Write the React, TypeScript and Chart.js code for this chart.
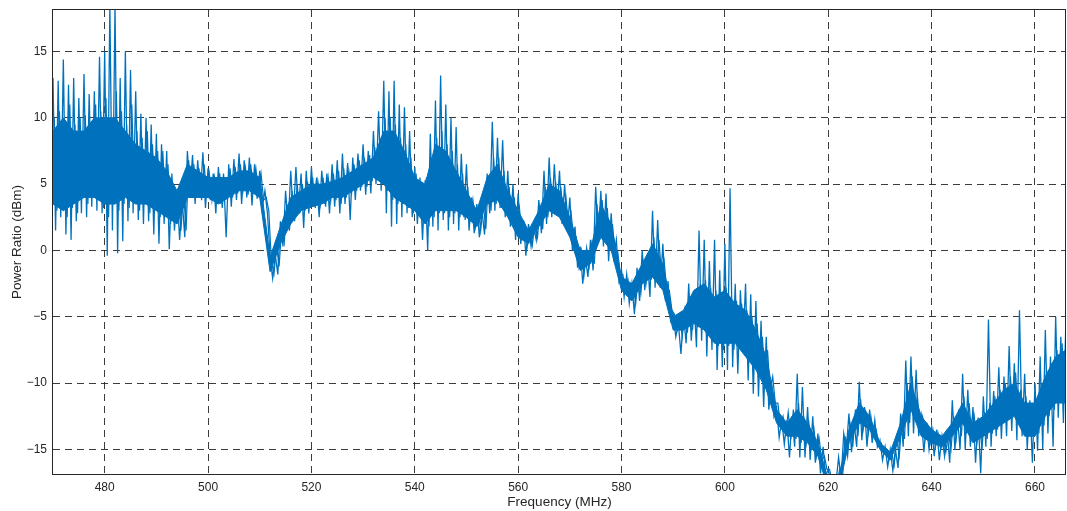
import React, { useEffect, useRef } from "react";
import { Chart, registerables } from "chart.js";

Chart.register(...registerables);

// Sweep: 470 MHz start, 0.5 MHz per sample (second pass offset by 0.25 MHz)
const startFreq = 470;
const freqStep = 0.5;
const secondOffset = 0.25;

// Power ratio (dBm), first pass, two samples per MHz
const powerDbm: number[] = [
  // 470-479
  13, 1.5, 12.8, 2.5, 14.4, 1.2, 12.5, 0.8, 13, 2.2, 11.5, 2.8, 13.3, 2.5, 11.8, 3.3, 12, 3, 14.6, 2.8,
  // 480-489
  15, -0.4, 18.5, 1.5, 18.5, -0.2, 13, 0.7, 15, 2.2, 13.6, 2.8, 12, 2.3, 10.3, 2, 10, 2.2, 9.5, 1.2,
  // 490-499
  8.8, 0.5, 8, 2, 7.5, 0.1, 5.8, 1.5, 4.5, 0.8, 3.8, 1.0, 7.5, 4.5, 7.2, 3.5, 6.8, 4, 7.4, 3.2,
  // 500-509
  6.2, 3.8, 5.8, 2.8, 6.3, 3.5, 5.8, 1.0, 6.5, 3.3, 6.9, 3.8, 7.3, 3.5, 6.8, 4.0, 7.0, 3.4, 6.5, 3.9,
  // 510-519
  6.0, 3.3, 4.5, 2.8, -0.5, -2.1, -0.3, -1.8, 2.2, 0.3, 4.5, 1.8, 6.0, 2.5, 6.3, 3.0, 5.8, 1.7, 6.0, 2.8,
  // 520-529
  6.3, 3.3, 5.5, 2.5, 6.0, 3.5, 5.8, 2.8, 6.5, 3.3, 6.8, 2.8, 7.3, 3.5, 6.6, 2.3, 7.0, 3.8, 7.3, 4.5,
  // 530-539
  8.0, 4.2, 7.5, 4.3, 9.0, 5.0, 10.5, 4.5, 12.8, 2.8, 12.0, 1.8, 12.8, 2.0, 11.0, 2.5, 10.8, 2.8, 9.0, 2.5,
  // 540-549
  6.3, 2.0, 5.5, 0.8, 5.3, 0.0, 8.8, 1.8, 11.3, 1.5, 13.2, 2.3, 11.0, 1.5, 10.0, 2.0, 9.3, 1.5, 7.3, 2.5,
  // 550-559
  6.5, 1.5, 4.0, 1.3, 3.5, 1.0, 3.0, 1.2, 5.8, 2.8, 9.7, 3.0, 8.5, 3.2, 8.3, 2.5, 6.0, 1.8, 5.0, 0.8,
  // 560-569
  4.3, 0.5, 2.3, -0.4, 2.0, 0.3, 1.8, 0.8, 3.8, 1.3, 6.0, 2.0, 7.0, 2.5, 6.5, 3.0, 6.0, 2.0, 5.0, 1.5,
  // 570-579
  4.0, 0.0, 1.8, -1.3, 0.3, -2.5, -0.5, -2.0, 0.8, -1.5, 4.8, 0.8, 4.5, 0.3, 4.3, -0.8, 2.8, -0.5, 0.8, -2.3,
  // 580-589
  -1.5, -3.5, -1.8, -4.0, -2.5, -4.8, -1.3, -3.8, 0.0, -3.0, -0.5, -3.5, 3.0, -2.8, 2.3, -2.8, 0.5, -3.8, -2.3, -5.3,
  // 590-599
  -4.8, -6.5, -5.5, -7.8, -4.8, -7.0, -2.5, -6.8, -3.5, -7.3, 1.5, -6.8, 0.8, -8.0, -0.8, -7.5, 0.8, -9.0, -1.5, -8.8,
  // 600-609
  0.5, -9.0, 4.7, -8.8, -2.5, -9.3, -3.0, -7.3, -2.5, -9.8, -3.3, -10.8, -3.8, -11.0, -5.3, -11.8, -6.5, -12.0, -9.8, -12.5,
  // 610-619
  -11.8, -14.1, -12.8, -14.6, -12.8, -15.6, -12.5, -14.8, -9.3, -15.6, -10.3, -15.6, -11.8, -15.8, -12.5, -16.0, -13.8, -16.8, -14.8, -17.0,
  // 620-629
  -16.5, -17.5, -17.5, -17.5, -15.6, -17.2, -13.8, -15.0, -12.3, -15.2, -13.0, -14.8, -9.9, -14.3, -11.8, -14.8, -12.0, -14.5, -12.8, -14.8,
  // 630-639
  -14.3, -15.8, -14.8, -16.3, -15.0, -16.6, -15.0, -16.4, -12.3, -14.8, -8.3, -14.0, -8.0, -13.8, -9.0, -14.0, -12.5, -15.2, -13.0, -15.0,
  // 640-649
  -13.3, -15.5, -13.5, -15.8, -14.0, -15.5, -13.5, -16.0, -11.3, -15.0, -12.5, -15.0, -9.3, -15.0, -10.5, -14.8, -11.8, -16.0, -12.6, -16.8,
  // 650-659
  -11.0, -14.8, -5.2, -14.8, -10.6, -14.0, -8.8, -14.2, -9.5, -14.0, -7.2, -13.6, -8.5, -14.3, -4.5, -14.0, -9.3, -15.0, -11.3, -16.0,
  // 660-666
  -10.0, -15.1, -8.0, -15.0, -6.0, -13.8, -8.0, -14.8, -5.0, -12.6, -6.5, -13.0, -5.0,
];

// Second pass (470.25 MHz onward), two samples per MHz
const powerDbmB: number[] = [
  // 470-479
  10, 3, 10.5, 3.8, 9, 2.5, 11, 3.2, 9.5, 2.8, 10, 4, 10.2, 3.5, 9, 4.2, 11, 3.8, 10.5, 3.2,
  // 480-489
  11.5, 2.5, 10, 3.8, 12, 3, 10.5, 3.5, 9.5, 3.2, 11, 4, 9, 3, 8.5, 3.8, 9, 2.8, 8, 3.3,
  // 490-499
  7.5, 2.5, 7.5, 3, 6.5, 2, 5, 2.2, 4.5, 1.5, 4.5, 1.5, 6.8, 4, 6.5, 4.2, 6.2, 3.8, 6.5, 4,
  // 500-509
  5.8, 3.8, 5.5, 3.5, 5.8, 3.2, 5.5, 3.8, 6.2, 4, 6.3, 4.3, 6.5, 4.5, 6.2, 4.2, 6.5, 4.8, 6.2, 4.3,
  // 510-519
  5.8, 3.8, 4, 3, -0.8, -1.8, 0.3, -1.2, 1.8, 0.6, 3.5, 1.5, 4.5, 2.2, 5, 2.8, 5, 3, 5.2, 3.2,
  // 520-529
  5.5, 3.2, 5.2, 3.5, 5.5, 3.3, 5.5, 3.8, 5.8, 3.8, 6, 3.5, 6.2, 4, 6, 4.2, 6.5, 4.5, 6.8, 4.8,
  // 530-539
  7, 4.8, 7.2, 5.2, 7.8, 5.5, 8.5, 5.2, 10, 4.5, 10, 3.8, 9.5, 3.5, 8.5, 3.5, 8, 3.2, 7, 2.8,
  // 540-549
  5.8, 2.8, 5, 2.2, 5.5, 1.8, 7, 2.5, 8.5, 2.8, 9, 2.8, 8, 2.5, 7.5, 2.8, 6.5, 2.5, 5.8, 2.3,
  // 550-559
  4.8, 2.2, 3.8, 1.8, 3.2, 1.5, 3.5, 1.6, 5.5, 3, 7, 3.5, 7, 3.2, 6, 3, 4.8, 2.2, 4, 1.5,
  // 560-569
  3.2, 1, 2, 0.3, 1.6, 0.4, 2.2, 1, 3.2, 1.6, 4.8, 2.5, 5.5, 2.8, 5.2, 3, 4.8, 2.5, 4, 1.8,
  // 570-579
  2.8, 0.8, 1, -1.2, 0, -1.8, 0.2, -1.2, 0.5, -1, 3.5, 0.8, 3.8, 1, 3.2, 0.2, 2, -0.2, 0, -1.8,
  // 580-589
  -1.8, -3, -2.2, -3.5, -2.5, -4, -1.8, -3.2, -1, -2.5, -0.8, -2.2, 1, -1.8, 0.8, -2, -0.8, -3, -3, -4.5,
  // 590-599
  -4.8, -6, -5, -6.5, -4.5, -6.2, -3.5, -6, -3, -5.8, -2.5, -5.5, -2.2, -6.2, -2.8, -6.8, -3, -7.2, -3.2, -7.5,
  // 600-609
  -2.8, -7.2, -3.5, -7.5, -3.8, -7.2, -4, -7.5, -4.5, -8.2, -5, -8.5, -5.5, -9.2, -6.5, -9.5, -7.5, -10.5, -9.5, -11.5,
  // 610-619
  -11.5, -13.2, -12.5, -13.8, -12.2, -14.2, -12, -14.2, -11.5, -14.5, -12.5, -14.5, -13, -14.8, -13.5, -15.5, -14.2, -15.8, -15.5, -16.5,
  // 620-629
  -16.5, -17.4, -17.3, -17.5, -16.4, -17.2, -14, -15.5, -13.2, -14.8, -12, -14, -11.2, -13.5, -12.2, -13.8, -12.5, -13.8, -13.5, -14.5,
  // 630-639
  -14.5, -15.3, -15, -15.8, -15.2, -16.2, -14.2, -15.5, -12.8, -14.2, -10, -13, -9.5, -12.5, -11, -13.2, -12.5, -14.2, -13.2, -14.5,
  // 640-649
  -13.5, -14.8, -13.8, -15, -14.2, -15.2, -13.8, -15, -12.5, -14.2, -12, -14, -11, -13.8, -11.5, -14, -12.5, -14.5, -13, -15,
  // 650-659
  -12.2, -14.2, -11.5, -13.8, -11, -13.5, -10.5, -13, -10, -12.8, -9.5, -12.5, -9.2, -12.5, -10.5, -13, -11, -13.8, -11.5, -14,
  // 660-665
  -11.2, -13.8, -10, -13.2, -9, -12.5, -8.5, -12, -7.5, -11.5, -7, -11,
];

// Dense core of the trace (solid band), every 2 MHz
const coreStep = 2;
const coreHi: number[] = [
  9, 10, 9, 9, 10, 10, 10, 9, 8, 7.5, // 470-488
  7, 6, 4.5, 6.5, 6, 5.5, 5.5, 5.5, 6, 6, // 490-508
  5.5, -0.5, 1.8, 4, 4.5, 5, 5, 5.2, 5.5, 6, // 510-528
  6.5, 7, 9, 9, 7.5, 5.5, 5, 8, 7.5, 6, // 530-548
  4.5, 3, 5.5, 6.5, 4.5, 3, 1.5, 3, 5, 4.5, // 550-568
  2.5, 0, 0, 3.5, 2, -2, -2.5, -1, 0.5, -1, // 570-588
  -5, -4.5, -3, -2.5, -3.5, -3, -4, -4.5, -6, -8, // 590-608
  -12, -13, -12, -13, -14.5, -17.3, -17.2, -13.5, -11.5, -12.5, // 610-628
  -14.5, -15.2, -13, -10, -12.5, -13.5, -14, -13, -11.5, -13, // 630-648
  -12.5, -11.5, -10.5, -10, -11.5, -11.5, -9.5, -8, -7.5, // 650-666
];
const coreLo: number[] = [
  3.5, 3, 3.5, 4, 4, 3.5, 3.5, 4, 3.5, 3.5, // 470-488
  3, 2.5, 2, 4, 4, 4, 3.5, 4, 4.5, 4.5, // 490-508
  4, -1.6, 0.5, 2, 3, 3.3, 3.5, 4, 4, 4.5, // 510-528
  5, 5.5, 5, 4, 3.5, 3, 2, 3, 3, 3, // 530-548
  2.5, 1.8, 3.5, 3.8, 2.5, 1, 0.5, 1.8, 3, 2.5, // 550-568
  1, -1.5, -1, 1, 0, -3, -3.8, -2.5, -2, -3, // 570-588
  -6, -6, -5.5, -6, -7, -7, -7, -8, -9, -10.5, // 590-608
  -13, -14, -14, -14.5, -15.5, -18, -18, -14.5, -13, -13.5, // 610-628
  -15, -15.8, -14, -12, -14, -14.5, -14.8, -14, -13, -14.5, // 630-648
  -14, -13.5, -13, -12.5, -14, -14, -12.5, -11.5, -11.5, // 650-666
];

const xTicks = [480, 500, 520, 540, 560, 580, 600, 620, 640, 660];
const yTicks = [-15, -10, -5, 0, 5, 10, 15];
const xRange = [470, 666];
const yRange = [-16.85, 18.13];
const xTitle = "Frequency (MHz)";
const yTitle = "Power Ratio (dBm)";

const fmt = (v: number) => (v < 0 ? "\u2212" + Math.abs(v) : String(v));

const framePlugin = {
  id: "frame",
  afterDraw(chart: any) {
    const { ctx, chartArea } = chart;
    ctx.save();
    ctx.strokeStyle = "#262626";
    ctx.lineWidth = 1;
    ctx.setLineDash([]);
    const l = Math.round(chartArea.left) - 0.5;
    const t = Math.round(chartArea.top) - 0.5;
    const r = Math.round(chartArea.right) - 0.5;
    const b = Math.round(chartArea.bottom) + 0.5;
    ctx.strokeRect(l, t, r - l, b - t);
    ctx.restore();
  },
};

export default function App() {
  const canvasRef = useRef<HTMLCanvasElement | null>(null);

  useEffect(() => {
    if (!canvasRef.current) return;
    const blue = "#0072BD";
    const pointsA = powerDbm.map((y, i) => ({ x: startFreq + i * freqStep, y }));
    const pointsB = powerDbmB.map((y, i) => ({ x: startFreq + secondOffset + i * freqStep, y }));
    const hiPts = coreHi.map((y, i) => ({ x: startFreq + i * coreStep, y }));
    const loPts = coreLo.map((y, i) => ({ x: startFreq + i * coreStep, y }));
    const family = "'Liberation Sans', Arial, Helvetica, sans-serif";
    const font = { family, size: 12 };
    const titleFont = { family, size: 13.5 };
    const gridColor = "rgba(38,38,38,0.9)";
    const traceBase = { borderColor: blue, pointRadius: 0, tension: 0 };
    const chart = new Chart(canvasRef.current, {
      type: "line",
      data: {
        datasets: [
          { ...traceBase, data: pointsA, borderWidth: 1.3, fill: false, order: 0 },
          { ...traceBase, data: pointsB, borderWidth: 1.2, fill: false, order: 1 },
          { ...traceBase, data: hiPts, backgroundColor: blue, borderWidth: 1, fill: "+1", order: 2 },
          { ...traceBase, data: loPts, borderWidth: 1, fill: false, order: 3 },
        ],
      },
      options: {
        animation: false,
        responsive: false,
        devicePixelRatio: 1,
        layout: { padding: { top: 10, right: 1, left: 0, bottom: 0 } },
        plugins: { legend: { display: false }, tooltip: { enabled: false } },
        scales: {
          x: {
            type: "linear",
            min: xRange[0],
            max: xRange[1],
            afterBuildTicks: (s: any) => {
              s.ticks = xTicks.map((v) => ({ value: v }));
            },
            afterFit: (s: any) => {
              s.height = 37;
              s.paddingLeft = 0;
              s.paddingRight = 0;
            },
            ticks: {
              font,
              color: "#262626",
              padding: 6,
              maxRotation: 0,
              autoSkip: false,
              callback: (v: any) => fmt(Number(v)),
            },
            grid: { color: gridColor, lineWidth: 1, drawTicks: false },
            border: { display: false, dash: [7, 5] },
            title: {
              display: true,
              text: xTitle,
              font: titleFont,
              color: "#262626",
              padding: { top: 0, bottom: 1 },
            },
          },
          y: {
            type: "linear",
            min: yRange[0],
            max: yRange[1],
            afterBuildTicks: (s: any) => {
              s.ticks = yTicks.map((v) => ({ value: v }));
            },
            afterFit: (s: any) => {
              s.width = 53;
              s.paddingTop = 0;
              s.paddingBottom = 0;
            },
            ticks: {
              font,
              color: "#262626",
              padding: 6,
              autoSkip: false,
              callback: (v: any) => fmt(Number(v)),
            },
            grid: { color: gridColor, lineWidth: 1, drawTicks: false },
            border: { display: false, dash: [7, 5] },
            title: {
              display: true,
              text: yTitle,
              font: titleFont,
              color: "#262626",
              padding: { top: 9, bottom: 0 },
            },
          },
        },
      },
      plugins: [framePlugin],
    } as any);
    return () => chart.destroy();
  }, []);

  return (
    <div style={{ position: "fixed", left: 0, top: 0, width: 1067, height: 511, background: "#fff" }}>
      <canvas ref={canvasRef} width={1067} height={511} style={{ width: 1067, height: 511 }} />
    </div>
  );
}
